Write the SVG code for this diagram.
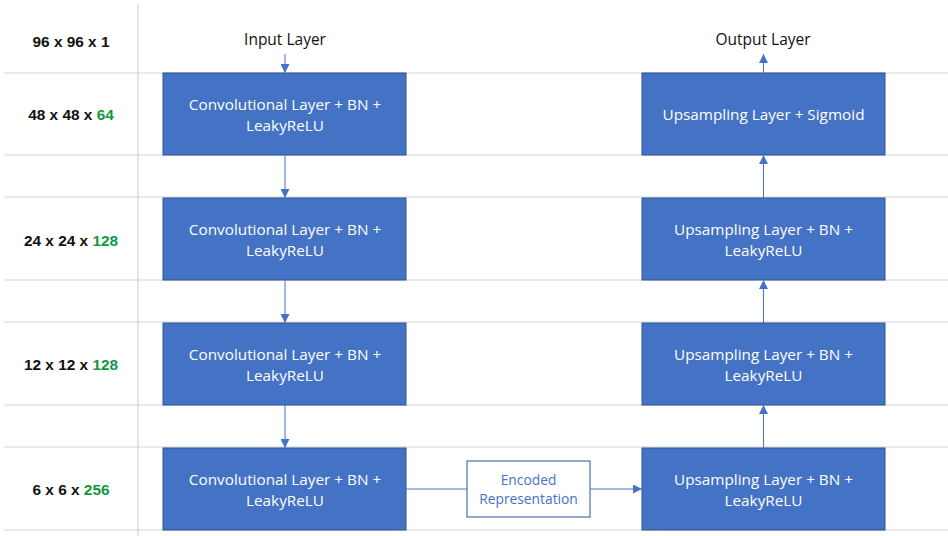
<svg xmlns="http://www.w3.org/2000/svg" width="948" height="536" viewBox="0 0 948 536">
  <style>
    .grid { stroke: #d4d4d4; stroke-width: 1.2; }
    .box { fill: #4472c4; stroke: #2f528f; stroke-width: 1; }
    .btxt { font-family: "Open Sans", "Liberation Sans", sans-serif; font-size: 15.3px; fill: #ffffff; text-anchor: middle; }
    .dim { font-family: "Liberation Sans", "Open Sans", sans-serif; font-size: 15.4px; font-weight: bold; fill: #111111; text-anchor: middle; }
    .num { fill: #12993f; }
    .lbl { font-family: "Open Sans", "Liberation Sans", sans-serif; font-size: 15.5px; fill: #111111; text-anchor: middle; }
    .conn { stroke: #4472c4; stroke-width: 1; fill: none; }
    .enc { fill: #ffffff; stroke: #2f528f; stroke-width: 1; }
    .etxt { font-family: "Open Sans", "Liberation Sans", sans-serif; font-size: 13.8px; fill: #4472c4; text-anchor: middle; }
  </style>
  <defs>
    <marker id="arrow" viewBox="0 0 10 10" refX="10" refY="5" markerWidth="9" markerHeight="9" markerUnits="userSpaceOnUse" orient="auto">
      <path d="M0,0 L10,5 L0,10 z" fill="#4472c4"/>
    </marker>
  </defs>

  <rect x="0" y="0" width="948" height="536" fill="#ffffff"/>

  <!-- table grid -->
  <g id="grid">
    <line class="grid" x1="138" y1="5" x2="138" y2="536"/>
    <line class="grid" x1="4" y1="73" x2="948" y2="73"/>
    <line class="grid" x1="4" y1="155" x2="948" y2="155"/>
    <line class="grid" x1="4" y1="197" x2="948" y2="197"/>
    <line class="grid" x1="4" y1="280" x2="948" y2="280"/>
    <line class="grid" x1="4" y1="322" x2="948" y2="322"/>
    <line class="grid" x1="4" y1="405" x2="948" y2="405"/>
    <line class="grid" x1="4" y1="447" x2="948" y2="447"/>
    <line class="grid" x1="4" y1="530" x2="948" y2="530"/>
  </g>

  <!-- shape labels -->
  <g id="dims">
    <text class="dim" x="71" y="47">96 x 96 x 1</text>
    <text class="dim" x="71" y="120">48 x 48 x <tspan class="num">64</tspan></text>
    <text class="dim" x="71" y="246">24 x 24 x <tspan class="num">128</tspan></text>
    <text class="dim" x="71" y="370">12 x 12 x <tspan class="num">128</tspan></text>
    <text class="dim" x="71" y="495">6 x 6 x <tspan class="num">256</tspan></text>
  </g>

  <g id="input-label"><text class="lbl" x="285" y="45">Input Layer</text></g>
  <g id="output-label"><text class="lbl" x="763" y="45">Output Layer</text></g>

  <!-- encoder -->
  <g id="enc1">
    <rect class="box" x="163" y="73" width="243" height="82"/>
    <text class="btxt" x="285" y="110">Convolutional Layer + BN +</text>
    <text class="btxt" x="285" y="131">LeakyReLU</text>
  </g>
  <g id="enc2">
    <rect class="box" x="163" y="198" width="243" height="82"/>
    <text class="btxt" x="285" y="235">Convolutional Layer + BN +</text>
    <text class="btxt" x="285" y="256">LeakyReLU</text>
  </g>
  <g id="enc3">
    <rect class="box" x="163" y="323" width="243" height="82"/>
    <text class="btxt" x="285" y="360">Convolutional Layer + BN +</text>
    <text class="btxt" x="285" y="381">LeakyReLU</text>
  </g>
  <g id="enc4">
    <rect class="box" x="163" y="448" width="243" height="82"/>
    <text class="btxt" x="285" y="485">Convolutional Layer + BN +</text>
    <text class="btxt" x="285" y="506">LeakyReLU</text>
  </g>

  <!-- bottleneck -->
  <g id="encoded">
    <rect class="enc" x="467" y="461" width="123" height="56"/>
    <text class="etxt" x="528.5" y="485">Encoded</text>
    <text class="etxt" x="528.5" y="504">Representation</text>
  </g>

  <!-- decoder -->
  <g id="dec4">
    <rect class="box" x="642" y="448" width="243" height="82"/>
    <text class="btxt" x="763.5" y="485">Upsampling Layer + BN +</text>
    <text class="btxt" x="763.5" y="506">LeakyReLU</text>
  </g>
  <g id="dec3">
    <rect class="box" x="642" y="323" width="243" height="82"/>
    <text class="btxt" x="763.5" y="360">Upsampling Layer + BN +</text>
    <text class="btxt" x="763.5" y="381">LeakyReLU</text>
  </g>
  <g id="dec2">
    <rect class="box" x="642" y="198" width="243" height="82"/>
    <text class="btxt" x="763.5" y="235">Upsampling Layer + BN +</text>
    <text class="btxt" x="763.5" y="256">LeakyReLU</text>
  </g>
  <g id="dec1">
    <rect class="box" x="642" y="73" width="243" height="82"/>
    <text class="btxt" x="763.5" y="120">Upsampling Layer + Sigmoid</text>
  </g>

  <!-- connectors -->
  <g id="connectors">
    <line class="conn" x1="285" y1="54" x2="285" y2="73" marker-end="url(#arrow)"/>
    <line class="conn" x1="285" y1="155" x2="285" y2="198" marker-end="url(#arrow)"/>
    <line class="conn" x1="285" y1="280" x2="285" y2="323" marker-end="url(#arrow)"/>
    <line class="conn" x1="285" y1="405" x2="285" y2="448" marker-end="url(#arrow)"/>
    <line class="conn" x1="406" y1="489" x2="467" y2="489"/>
    <line class="conn" x1="590" y1="489" x2="642" y2="489" marker-end="url(#arrow)"/>
    <line class="conn" x1="763.5" y1="448" x2="763.5" y2="405" marker-end="url(#arrow)"/>
    <line class="conn" x1="763.5" y1="323" x2="763.5" y2="280" marker-end="url(#arrow)"/>
    <line class="conn" x1="763.5" y1="198" x2="763.5" y2="155" marker-end="url(#arrow)"/>
    <line class="conn" x1="763.5" y1="73" x2="763.5" y2="54" marker-end="url(#arrow)"/>
  </g>
</svg>
